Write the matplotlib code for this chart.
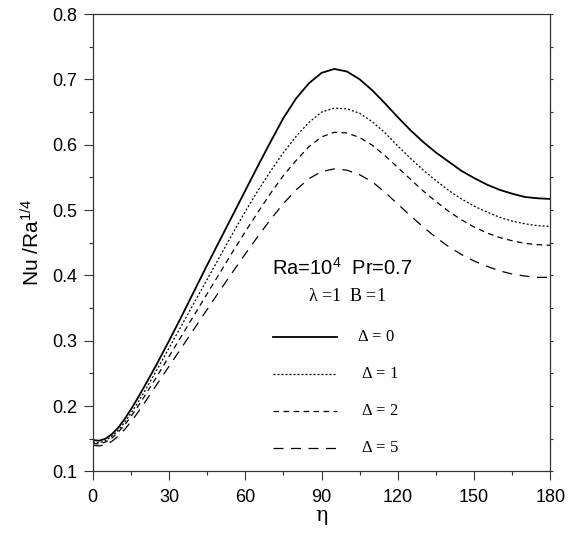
import matplotlib
matplotlib.use("Agg")
import matplotlib.pyplot as plt
from matplotlib.ticker import MultipleLocator

plt.rcParams['font.family'] = ['Liberation Sans', 'DejaVu Sans']
plt.rcParams['mathtext.default'] = 'regular'

eta = [0, 2.5, 5, 7.5, 10, 12.5, 15, 17.5, 20, 25, 30, 35, 40, 45, 50, 55, 60,
       65, 70, 75, 80, 85, 90, 95, 100, 105, 110, 115, 120, 125, 130, 135, 140,
       145, 150, 155, 160, 165, 170, 175, 180]

nu_d0 = [0.148, 0.147, 0.150, 0.157, 0.167, 0.180, 0.195, 0.211, 0.228, 0.263,
         0.300, 0.338, 0.377, 0.416, 0.454, 0.492, 0.530, 0.568, 0.605, 0.641,
         0.671, 0.694, 0.710, 0.716, 0.712, 0.700, 0.683, 0.663, 0.642, 0.622,
         0.604, 0.588, 0.574, 0.560, 0.549, 0.539, 0.531, 0.525, 0.520, 0.518,
         0.517]
nu_d1 = [0.145, 0.144, 0.147, 0.154, 0.163, 0.175, 0.189, 0.204, 0.220, 0.254,
         0.289, 0.324, 0.359, 0.394, 0.429, 0.464, 0.498, 0.530, 0.560, 0.588,
         0.613, 0.634, 0.650, 0.656, 0.655, 0.648, 0.635, 0.618, 0.598, 0.579,
         0.561, 0.545, 0.530, 0.517, 0.506, 0.497, 0.489, 0.483, 0.479, 0.476,
         0.475]
nu_d2 = [0.143, 0.142, 0.145, 0.151, 0.160, 0.171, 0.184, 0.198, 0.213, 0.244,
         0.276, 0.308, 0.340, 0.372, 0.404, 0.436, 0.467, 0.497, 0.526, 0.553,
         0.576, 0.597, 0.612, 0.619, 0.618, 0.611, 0.599, 0.583, 0.565, 0.547,
         0.529, 0.513, 0.498, 0.485, 0.474, 0.465, 0.458, 0.453, 0.449, 0.447,
         0.446]
nu_d5 = [0.140, 0.139, 0.141, 0.146, 0.154, 0.164, 0.176, 0.189, 0.203, 0.232,
         0.261, 0.290, 0.319, 0.348, 0.377, 0.405, 0.433, 0.460, 0.486, 0.510,
         0.531, 0.548, 0.559, 0.563, 0.561, 0.554, 0.543, 0.527, 0.509, 0.491,
         0.474, 0.458, 0.444, 0.432, 0.422, 0.414, 0.407, 0.402, 0.399, 0.397,
         0.397]

labels = [r'$\Delta$ = 0', r'$\Delta$ = 1', r'$\Delta$ = 2', r'$\Delta$ = 5']
series = [nu_d0, nu_d1, nu_d2, nu_d5]
styles = [dict(ls='-', lw=1.3),
          dict(ls=(0, (1.6, 1.6)), lw=0.9),
          dict(ls=(0, (4.5, 3.5)), lw=0.9),
          dict(ls=(0, (8, 6)), lw=0.9)]

fig = plt.figure(figsize=(5.8, 5.4), dpi=100)
ax = fig.add_axes([0.160, 0.127, 0.789, 0.847])

for y, st in zip(series, styles):
    ax.plot(eta, y, color='black', **st)

ax.set_xlim(0, 180)
ax.set_ylim(0.1, 0.8)
ax.xaxis.set_major_locator(MultipleLocator(30))
ax.xaxis.set_minor_locator(MultipleLocator(15))
ax.yaxis.set_major_locator(MultipleLocator(0.1))
ax.yaxis.set_minor_locator(MultipleLocator(0.05))
ax.yaxis.set_major_formatter(plt.FuncFormatter(lambda v, p: f'{v:.1f}'))

ax.tick_params(which='major', direction='out', length=6.3, width=0.8,
               labelsize=13, colors='#333333', labelcolor='black',
               top=False, right=True)
ax.tick_params(which='minor', direction='out', length=3.2, width=0.8,
               colors='#333333', top=False, right=True)
ax.tick_params(axis='y', which='major', pad=5)
ax.tick_params(axis='x', which='major', pad=6)
for t in ax.yaxis.get_major_ticks() + ax.yaxis.get_minor_ticks():
    t.tick2line.set_markersize(2.5)

for sp in ax.spines.values():
    sp.set_color('#333333')
    sp.set_linewidth(0.9)

ax.set_xlabel(r'$\eta$', fontsize=15, family='DejaVu Serif', labelpad=2)
ax.set_ylabel(r'Nu /Ra$^{1/4}$', fontsize=15, labelpad=6)

ax.text(70.5, 0.411, r'Ra=10$^4$  Pr=0.7', fontsize=14.5, ha='left', va='center')
ax.text(84.5, 0.368, r'$\lambda$ =1  B =1', fontsize=13, ha='left', va='center',
        family=['Liberation Serif', 'DejaVu Serif'])

leg_y = [0.305, 0.249, 0.192, 0.136]
leg_x = [103.8, 105.3, 105.3, 105.3]
for y0, x0, lab, st in zip(leg_y, leg_x, labels, styles):
    ax.plot([71.0, 96.0], [y0, y0], color='black', **st)
    ax.text(x0, y0, lab, fontsize=12, ha='left', va='center',
            family=['Liberation Serif', 'DejaVu Serif'])

fig.savefig('out.png', dpi=100)
